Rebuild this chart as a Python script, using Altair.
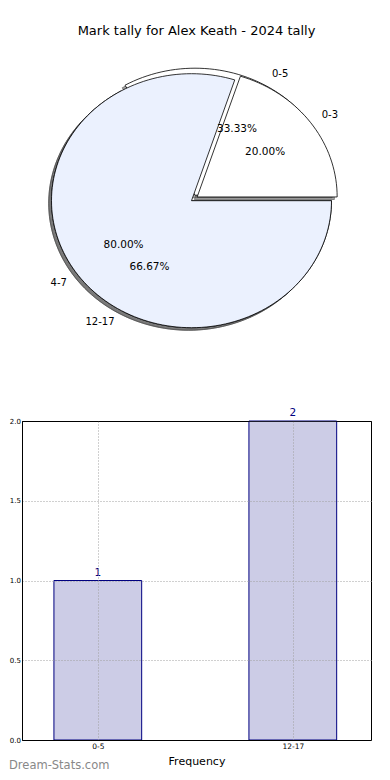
import altair as alt
import numpy as np
import pandas as pd

TITLE = "Mark tally for Alex Keath - 2024 tally"
WATERMARK = "Dream-Stats.com"

# pie drawn on top
pie_a_labels = ["0-3", "4-7"]
pie_a_values = [1, 4]
# pie drawn underneath
pie_b_labels = ["0-5", "12-17"]
pie_b_values = [1, 2]
explode = [0.05, 0.0]
wedge_colors = ["#ffffff", "#ebf1fe"]

bar_labels = ["0-5", "12-17"]
bar_values = [1, 2]
y_ticks = [0.0, 0.5, 1.0, 1.5, 2.0]

SHADOW = (-0.02, -0.02)
LABEL_R = 1.1
PCT_R = 0.6


def build_pie(pie_id, labels, values):
    total = float(sum(values))
    poly, shadow, texts = [], [], []
    start = 0.0
    for i, (lab, v) in enumerate(zip(labels, values)):
        frac = v / total
        t1, t2 = 360.0 * start, 360.0 * (start + frac)
        start += frac
        mid = np.deg2rad((t1 + t2) / 2)
        cx, cy = explode[i] * np.cos(mid), explode[i] * np.sin(mid)
        ts = np.deg2rad(np.linspace(t1, t2, max(int((t2 - t1) / 2), 2) + 1))
        xs = np.concatenate([[cx], cx + np.cos(ts), [cx]])
        ys = np.concatenate([[cy], cy + np.sin(ts), [cy]])
        wid = f"{pie_id}-{i}"
        for k, (x, y) in enumerate(zip(xs, ys)):
            poly.append({"wid": wid, "k": k, "x": float(x), "y": float(y), "fillc": wedge_colors[i]})
            shadow.append({"wid": wid, "k": k, "x": float(x + SHADOW[0]), "y": float(y + SHADOW[1])})
        lx, ly = cx + LABEL_R * np.cos(mid), cy + LABEL_R * np.sin(mid)
        texts.append({
            "label": lab, "x": float(lx), "y": float(ly),
            "side": "left" if lx > 0 else "right",
            "pct": f"{100 * frac:.2f}%",
            "px": float(cx + PCT_R * np.cos(mid)), "py": float(cy + PCT_R * np.sin(mid)),
        })
    return poly, shadow, texts


polyA, shadA, textA = build_pie("A", pie_a_labels, pie_a_values)
polyB, shadB, textB = build_pie("B", pie_b_labels, pie_b_values)
poly_a_df = pd.DataFrame(polyA)
poly_b_df = pd.DataFrame(polyB)
shadow_df = pd.DataFrame(shadB + shadA)
text_df = pd.DataFrame(textB + textA)

# layout of pie panel (pixels per unit radius differ: matplotlib non-equal aspect)
PIE_W, PIE_H = 349, 344
CX, CY = 169.5, 154.7
RX, RY = 140.0, 127.0
pxs = alt.Scale(domain=[-CX / RX, (PIE_W - CX) / RX], nice=False, zero=False)
pys = alt.Scale(domain=[-(PIE_H - CY) / RY, CY / RY], nice=False, zero=False)


def px(f):
    return alt.X(f"{f}:Q", scale=pxs, axis=None)


def py(f):
    return alt.Y(f"{f}:Q", scale=pys, axis=None)


shadow_layer = alt.Chart(shadow_df).mark_line(
    fill="#4d4d4d", fillOpacity=0.5, stroke="#4d4d4d", strokeOpacity=0.6, strokeWidth=1
).encode(x=px("x"), y=py("y"), detail="wid:N", order="k:Q")

wedge_b = alt.Chart(poly_b_df).mark_line(stroke="black", strokeWidth=0.8).encode(
    x=px("x"), y=py("y"), detail="wid:N", order="k:Q", fill=alt.Fill("fillc:N", scale=None)
)
wedge_a = alt.Chart(poly_a_df).mark_line(stroke="black", strokeWidth=0.8).encode(
    x=px("x"), y=py("y"), detail="wid:N", order="k:Q", fill=alt.Fill("fillc:N", scale=None)
)

lab_base = alt.Chart(text_df)
lab_left = lab_base.transform_filter("datum.side == 'left'").mark_text(
    align="left", baseline="middle", fontSize=10, color="black"
).encode(x=px("x"), y=py("y"), text="label:N")
lab_right = lab_base.transform_filter("datum.side == 'right'").mark_text(
    align="right", baseline="middle", fontSize=10, color="black"
).encode(x=px("x"), y=py("y"), text="label:N")
pct = lab_base.mark_text(align="center", baseline="middle", fontSize=10.5, color="black").encode(
    x=px("px"), y=py("py"), text="pct:N"
)

pie = alt.layer(shadow_layer, wedge_b, wedge_a, lab_left, lab_right, pct).properties(
    width=PIE_W, height=PIE_H,
    title=alt.TitleParams(TITLE, fontSize=13, fontWeight="normal", anchor="middle", offset=8, color="black"),
)

# bar chart
BAR_W, BAR_H = 349, 319
bar_df = pd.DataFrame({"cat": bar_labels, "val": bar_values, "pos": list(range(len(bar_labels)))})
label_expr = "[" + ",".join(f"'{c}'" for c in bar_labels) + "][datum.value]"
bxs = alt.Scale(domain=[-0.3887, 1.401], nice=False, zero=False)
bys = alt.Scale(domain=[0, 2], nice=False)

grid_kw = dict(grid=True, gridWidth=1, ticks=False,
               domainColor="black", domainWidth=1, zindex=1, labelColor="black")

bars = alt.Chart(bar_df).transform_calculate(
    x1="datum.pos - 0.225", x2="datum.pos + 0.225"
).mark_bar(fill="#cccce6", stroke="#000080", strokeWidth=1).encode(
    x=alt.X("x1:Q", scale=bxs, axis=alt.Axis(values=[0, 1], labelExpr=label_expr, title="Frequency",
                                             labelFontSize=7.5, labelPadding=2, titleFontSize=11,
                                             titleFontWeight="normal", titlePadding=6, titleColor="black",
                                             gridColor="#a0a0a0", gridDash=[1, 2], **grid_kw)),
    x2="x2:Q",
    y=alt.Y("val:Q", scale=bys, axis=alt.Axis(
        values=y_ticks, format=".1f", title=None, labelFontSize=7, labelPadding=1.5,
        gridColor=alt.condition("datum.value >= 2", alt.value("black"), alt.value("#a0a0a0")),
        gridDash=alt.condition("datum.value >= 2", alt.value([1, 0]), alt.value([1, 2])),
        **grid_kw)),
    y2=alt.datum(0),
)
bar_text = alt.Chart(bar_df).mark_text(baseline="bottom", dy=-3, fontSize=10.5, color="#000080").encode(
    x=alt.X("pos:Q", scale=bxs), y=alt.Y("val:Q", scale=bys), text="val:Q"
)
wm = alt.Chart(pd.DataFrame({"t": [WATERMARK]})).mark_text(
    align="left", baseline="middle", fontSize=11.5, color="#888888", x=-13, y=345
).encode(text="t:N")

bar = alt.layer(bars, bar_text, wm).properties(
    width=BAR_W, height=BAR_H, view=alt.ViewBackground(stroke="black", strokeWidth=1)
)

chart = alt.vconcat(pie, bar, spacing=31, bounds="flush").properties(
    padding={"left": 0, "top": 17, "right": 0, "bottom": 0}
).configure(font="DejaVu Sans").configure_view(strokeWidth=0)

chart.save("out.html", embed_options={"renderer": "svg", "actions": False})
